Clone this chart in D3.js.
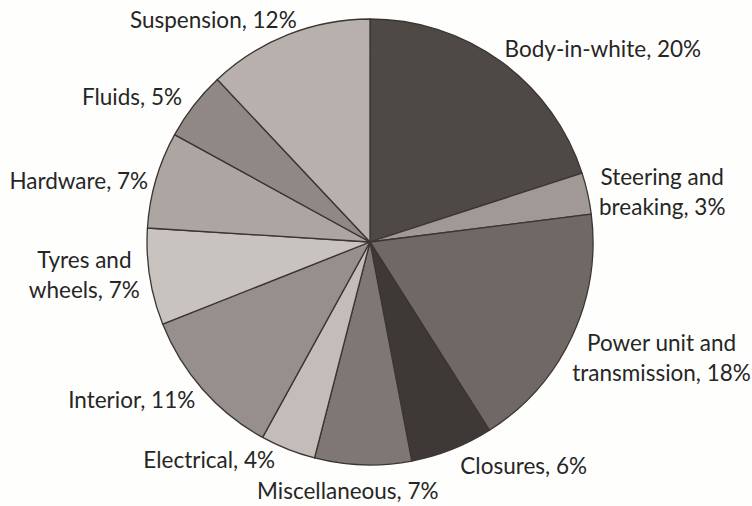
<!DOCTYPE html>
<html>
<head>
<meta charset="utf-8">
<script src="https://cdn.jsdelivr.net/npm/d3@7"></script>
<style>
  html, body { margin: 0; padding: 0; background: #fefefc; }
  svg { display: block; }
</style>
</head>
<body>
<svg id="chart" width="752" height="506"></svg>
<script>
const categories = ["Body-in-white", "Steering and breaking", "Power unit and transmission", "Closures",
  "Miscellaneous", "Electrical", "Interior", "Tyres and wheels", "Hardware", "Fluids", "Suspension"];
const values = [20, 3, 18, 6, 7, 4, 11, 7, 7, 5, 12];
const colors = ["#4f4946", "#a19995", "#6f6864", "#3e3937", "#7e7774", "#c3bcb9",
  "#968f8b", "#c9c3c0", "#aca5a1", "#8f8884", "#b8b0ac"];
// small layout nudges for the outside-end labels (px), like the spreadsheet's collision avoidance
const labelNudge = [[0, 0], [5.5, 0], [-5, -4.5], [6, 3], [-15, 12], [-10.7, -3.3],
  [-3, -1.4], [-4, -3], [-2, 3], [-7, 3.4], [11, -1]];

const W = 752, H = 506;
const cx = 370, cy = 242, R = 223;
const fontSize = 22.5, lineH = 30, capH = 0.72 * fontSize;

const svg = d3.select("#chart");
svg.append("rect").attr("width", W).attr("height", H).attr("fill", "#fefefc");

const pie = d3.pie().sort(null).value(d => d);
const arcs = pie(values);
const arc = d3.arc().innerRadius(0).outerRadius(R);

const g = svg.append("g").attr("transform", `translate(${cx},${cy})`);
g.selectAll("path.slice").data(arcs).join("path")
  .attr("class", "slice")
  .attr("d", arc)
  .attr("fill", (d, i) => colors[i])
  .attr("stroke", "#3a3533")
  .attr("stroke-width", 1.3)
  .attr("stroke-linejoin", "round");

function labelLines(name, v) {
  const k = name.indexOf(" and ");
  const pct = `, ${v}%`;
  if (k >= 0) return [name.slice(0, k + 4), name.slice(k + 5) + pct];
  return [name + pct];
}

const labels = g.selectAll("g.label").data(arcs).join("g").attr("class", "label");
labels.each(function(d, i) {
  const sel = d3.select(this);
  const lines = labelLines(categories[i], d.data);
  const t = sel.append("text")
    .attr("font-family", "Lato, 'Open Sans', sans-serif")
    .attr("font-size", fontSize)
    .attr("fill", "#262626")
    .attr("text-anchor", "middle");
  lines.forEach((ln, j) => t.append("tspan").attr("x", 0).attr("y", j * lineH).text(ln));
  const bb = t.node().getBBox();
  // visible box: cap top of first line to baseline of last line
  const boxW = bb.width, boxH = capH + (lines.length - 1) * lineH;
  const mid = (d.startAngle + d.endAngle) / 2;
  const s = Math.sin(mid), c = Math.cos(mid);
  const pad = 6;
  const px = (R + pad) * s, py = -(R + pad) * c;
  let left;
  if (s > 0.2) left = px;
  else if (s < -0.2) left = px - boxW;
  else left = px - boxW / 2;
  let top;
  if (c > 0.35) top = py - boxH;
  else if (c < -0.35) top = py;
  else top = py - boxH / 2;
  const [nx, ny] = labelNudge[i];
  const tx = left + boxW / 2 + nx;
  const ty = top + capH + ny;
  sel.attr("transform", `translate(${tx},${ty})`);
});
</script>
</body>
</html>
